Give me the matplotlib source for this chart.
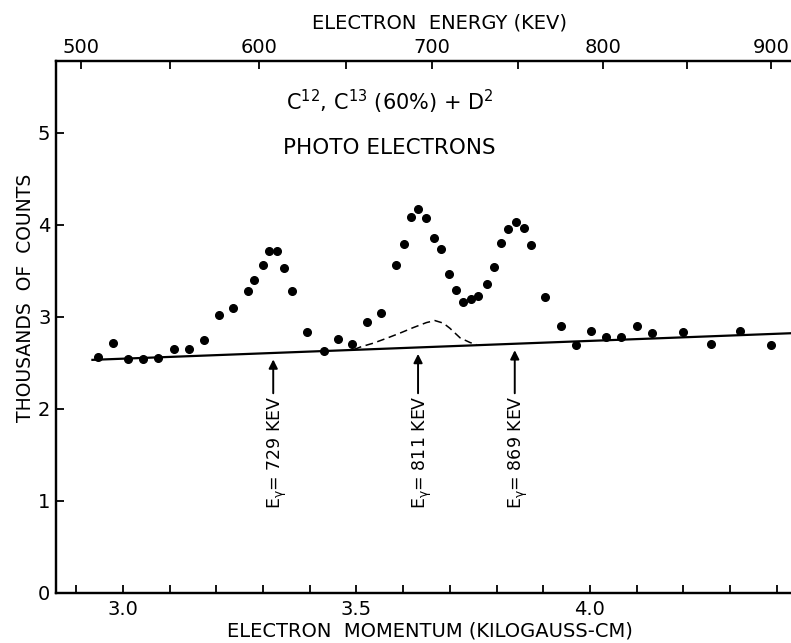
import numpy as np
import matplotlib
matplotlib.use("Agg")
import matplotlib.pyplot as plt

plt.rcParams['font.family'] = ['DejaVu Sans']
plt.rcParams['mathtext.default'] = 'regular'

# measured counts (thousands) vs electron momentum (kilogauss-cm)
momentum = [2.947, 2.978, 3.011, 3.044, 3.076, 3.109, 3.141, 3.173, 3.206, 3.236,
            3.268, 3.281, 3.301, 3.313, 3.331, 3.346, 3.363, 3.395, 3.431, 3.461,
            3.490, 3.522, 3.553, 3.585, 3.602, 3.617, 3.632, 3.649, 3.667, 3.682,
            3.699, 3.713, 3.729, 3.745, 3.761, 3.779, 3.794, 3.810, 3.824, 3.842,
            3.859, 3.874, 3.904, 3.939, 3.971, 4.002, 4.034, 4.066, 4.100, 4.132,
            4.199, 4.260, 4.321, 4.387]
counts = [2.568, 2.714, 2.547, 2.540, 2.554, 2.649, 2.649, 2.747, 3.018, 3.101,
          3.279, 3.405, 3.568, 3.717, 3.717, 3.536, 3.286, 2.834, 2.634, 2.758,
          2.710, 2.946, 3.043, 3.562, 3.793, 4.084, 4.177, 4.079, 3.862, 3.742,
          3.467, 3.293, 3.163, 3.199, 3.228, 3.359, 3.547, 3.801, 3.957, 4.033,
          3.971, 3.786, 3.217, 2.902, 2.692, 2.845, 2.779, 2.783, 2.905, 2.826,
          2.834, 2.710, 2.848, 2.699]

# background line
bg_x = [2.935, 4.47]
bg_y = [2.533, 2.830]

# dashed 811 keV contribution
dash_x = [3.495, 3.511, 3.536, 3.565, 3.593, 3.622, 3.650, 3.668, 3.686, 3.700,
          3.722, 3.743, 3.757]
dash_y = [2.646, 2.677, 2.714, 2.768, 2.823, 2.884, 2.938, 2.960, 2.932, 2.877,
          2.772, 2.722, 2.698]

# gamma lines
gamma_kev = [729, 811, 869]
gamma_x = [3.322, 3.632, 3.839]

# top axis energies (keV)
energy_major = [500, 600, 700, 800, 900]
energy_minor = [550, 650, 750, 850]


def kev_to_momentum(t):
    t = np.asarray(t, dtype=float)
    return np.sqrt((t + 511.0) ** 2 - 511.0 ** 2) / 299.79


fig = plt.figure(figsize=(7.91, 6.43), dpi=100)
ax = fig.add_axes([56 / 791, 1 - 593 / 643, 754 / 791, 532 / 643])
xlim = (2.857, 4.471)

ax.plot(momentum, counts, 'o', color='k', ms=5.5, zorder=3)
ax.plot(bg_x, bg_y, '-', color='k', lw=1.6)
ax.plot(dash_x, dash_y, '--', color='k', lw=1.1, dashes=(5, 3))

for kev, gx in zip(gamma_kev, gamma_x):
    base = np.interp(gx, bg_x, bg_y)
    ax.annotate('', xy=(gx, base - 0.07), xytext=(gx, 2.17),
                arrowprops=dict(arrowstyle='-|>', lw=1.4, color='k',
                                mutation_scale=13, shrinkA=0, shrinkB=0))
    ax.text(gx, 2.15, 'E$_\\gamma$= %d KEV' % kev, rotation=90,
            ha='right', va='center_baseline', fontsize=12.5,
            rotation_mode='anchor')

ax.text(0.442, 0.923, 'C$^{12}$, C$^{13}$ (60%) + D$^{2}$', transform=ax.transAxes,
        ha='center', va='center', fontsize=15)
ax.text(0.442, 0.836, 'PHOTO ELECTRONS', transform=ax.transAxes,
        ha='center', va='center', fontsize=15.5)

ax.set_xlim(xlim)
ax.set_ylim(0, 5.78)
ax.set_xticks([3.0, 3.5, 4.0])
ax.set_xticklabels(['3.0', '3.5', '4.0'])
ax.set_xticks(np.arange(2.9, 4.45, 0.1), minor=True)
ax.set_yticks(range(6))
ax.tick_params(axis='both', which='both', direction='in', length=6, width=1.3,
               labelsize=14)
ax.tick_params(axis='x', which='both', top=False, pad=5)
ax.tick_params(axis='y', pad=4)
ax.set_xlabel('ELECTRON  MOMENTUM (KILOGAUSS-CM)', fontsize=14)
ax.xaxis.set_label_coords(0.496, -0.071)
ax.xaxis.label.set_va('center')
ax.set_ylabel('THOUSANDS  OF  COUNTS', fontsize=13.5)
ax.yaxis.set_label_coords(-0.041, 0.555)
ax.yaxis.label.set_va('center')

ax2 = ax.twiny()
ax2.set_xlim(xlim)
ax2.set_xticks(kev_to_momentum(energy_major))
ax2.set_xticklabels([str(e) for e in energy_major])
ax2.set_xticks(kev_to_momentum(energy_minor), minor=True)
ax2.tick_params(axis='x', which='both', direction='in', length=6, width=1.3,
                labelsize=14, pad=3)
ax2.set_xlabel('ELECTRON  ENERGY (KEV)', fontsize=14)
ax2.xaxis.set_label_coords(0.508, 1.071)
ax2.xaxis.label.set_va('center')

for a in (ax, ax2):
    for s in a.spines.values():
        s.set_linewidth(1.6)

fig.savefig('out.png', dpi=100)
